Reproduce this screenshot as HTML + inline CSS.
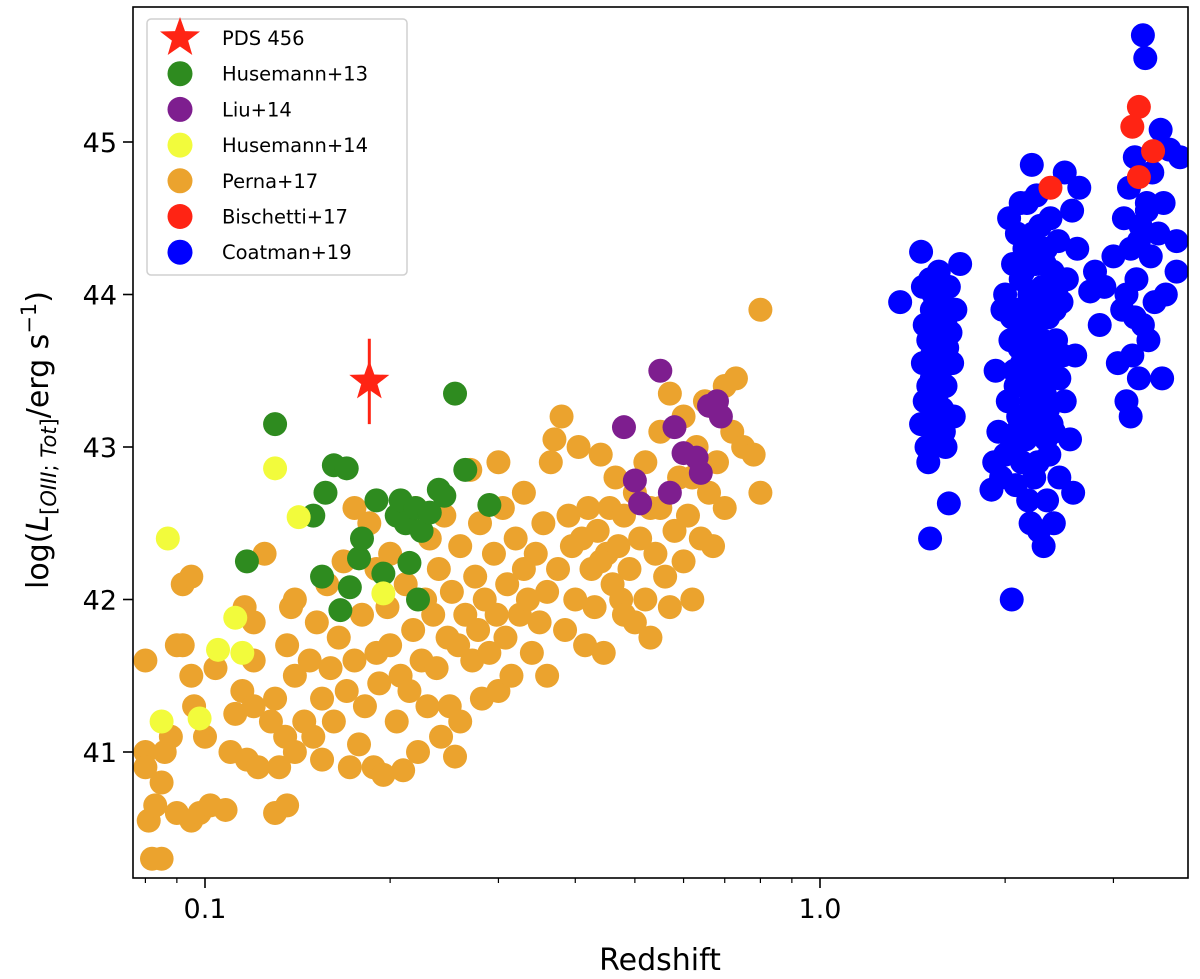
<!DOCTYPE html>
<html><head><meta charset="utf-8"><style>
body{margin:0;background:#fff;}
svg{display:block;font-family:"DejaVu Sans","Liberation Sans",sans-serif;}
</style></head><body>
<svg id="chart" width="1200" height="979" viewBox="0 0 1200 979" xmlns="http://www.w3.org/2000/svg">
<g id="marks"></g>
<g id="axes"></g>
<g id="legend"></g>
</svg>
<script>
const perna=[[0.08,41.6],[0.08,41.0],[0.08,40.9],[0.081,40.55],[0.082,40.3],[0.085,40.3],[0.083,40.65],[0.085,40.8],[0.086,41.0],[0.088,41.1],[0.09,40.6],[0.092,41.7],[0.095,40.55],[0.095,41.5],[0.09,41.7],[0.098,40.6],[0.1,41.1],[0.102,40.65],[0.104,41.55],[0.108,40.62],[0.092,42.1],[0.095,42.15],[0.096,41.3],[0.11,41.0],[0.112,41.25],[0.115,41.4],[0.116,41.95],[0.117,40.95],[0.12,41.3],[0.12,41.85],[0.122,40.9],[0.125,42.3],[0.128,41.2],[0.13,40.6],[0.132,40.9],[0.135,41.1],[0.136,41.7],[0.136,40.65],[0.138,41.95],[0.14,41.5],[0.14,41.0],[0.145,41.2],[0.148,41.6],[0.15,41.1],[0.152,41.85],[0.155,41.35],[0.155,40.95],[0.158,42.1],[0.16,41.55],[0.162,41.2],[0.165,41.75],[0.168,42.25],[0.17,41.4],[0.172,40.9],[0.175,41.6],[0.175,42.6],[0.178,41.05],[0.18,41.9],[0.182,41.3],[0.185,42.5],[0.188,40.9],[0.19,41.65],[0.192,41.45],[0.195,40.85],[0.198,41.95],[0.2,41.7],[0.2,42.3],[0.205,41.2],[0.208,41.5],[0.21,40.88],[0.212,42.1],[0.215,41.4],[0.218,41.8],[0.22,42.6],[0.222,41.0],[0.225,41.6],[0.228,42.0],[0.23,41.3],[0.232,42.4],[0.235,41.9],[0.238,41.55],[0.24,42.2],[0.242,41.1],[0.245,42.55],[0.248,41.75],[0.25,41.3],[0.252,42.05],[0.255,40.97],[0.258,41.7],[0.26,42.35],[0.265,41.9],[0.27,42.85],[0.272,41.6],[0.275,42.15],[0.278,41.8],[0.28,42.5],[0.282,41.35],[0.285,42.0],[0.29,41.65],[0.295,42.3],[0.298,41.9],[0.3,41.4],[0.305,42.6],[0.308,41.75],[0.31,42.1],[0.315,41.5],[0.32,42.4],[0.325,41.9],[0.33,42.7],[0.335,42.0],[0.34,41.65],[0.345,42.3],[0.35,41.85],[0.355,42.5],[0.36,42.05],[0.365,42.9],[0.37,43.05],[0.375,42.2],[0.38,43.2],[0.385,41.8],[0.39,42.55],[0.395,42.35],[0.4,42.0],[0.405,43.0],[0.41,42.4],[0.415,41.7],[0.42,42.6],[0.425,42.2],[0.43,41.95],[0.435,42.45],[0.44,42.95],[0.445,41.65],[0.45,42.3],[0.455,42.6],[0.46,42.1],[0.465,42.8],[0.47,42.35],[0.475,42.0],[0.48,42.55],[0.49,42.2],[0.5,41.85],[0.5,42.7],[0.51,42.4],[0.52,42.9],[0.52,42.0],[0.53,41.75],[0.54,42.3],[0.55,42.6],[0.55,43.1],[0.56,42.15],[0.57,43.35],[0.57,41.95],[0.58,42.45],[0.59,42.8],[0.6,42.25],[0.6,43.2],[0.61,42.55],[0.62,42.0],[0.63,43.0],[0.64,42.4],[0.65,43.3],[0.66,42.7],[0.67,42.35],[0.68,42.9],[0.7,43.4],[0.7,42.6],[0.72,43.1],[0.73,43.45],[0.75,43.0],[0.78,42.95],[0.8,42.7],[0.8,43.9],[0.3,42.9],[0.33,42.2],[0.36,41.5],[0.14,42.0],[0.13,41.35],[0.12,41.6],[0.19,42.2],[0.26,41.2],[0.44,42.25],[0.48,41.9],[0.53,42.6],[0.62,42.8]];
const husemann13=[[0.117,42.25],[0.13,43.15],[0.15,42.55],[0.155,42.15],[0.157,42.7],[0.162,42.88],[0.166,41.93],[0.17,42.86],[0.172,42.08],[0.178,42.27],[0.18,42.4],[0.19,42.65],[0.195,42.17],[0.205,42.55],[0.208,42.65],[0.212,42.5],[0.215,42.24],[0.22,42.6],[0.222,42.0],[0.225,42.45],[0.232,42.57],[0.24,42.72],[0.245,42.68],[0.255,43.35],[0.265,42.85],[0.29,42.62]];
const liu14=[[0.48,43.13],[0.5,42.78],[0.51,42.63],[0.55,43.5],[0.57,42.7],[0.58,43.13],[0.6,42.96],[0.63,42.93],[0.64,42.83],[0.66,43.27],[0.68,43.3],[0.69,43.2]];
const husemann14=[[0.087,42.4],[0.085,41.2],[0.098,41.22],[0.105,41.67],[0.112,41.88],[0.115,41.65],[0.13,42.86],[0.142,42.54],[0.195,42.04]];
const bischetti17=[[2.37,44.7],[3.22,45.1],[3.3,45.23],[3.3,44.77],[3.48,44.94]];
const coatman19=[[1.35,43.95],[1.46,44.28],[1.47,44.05],[1.48,43.8],[1.47,43.55],[1.46,43.15],[1.48,43.3],[1.49,43.0],[1.5,42.9],[1.51,42.4],[1.5,43.7],[1.51,44.1],[1.52,43.9],[1.52,43.45],[1.53,43.2],[1.53,44.0],[1.54,43.6],[1.55,43.85],[1.55,43.35],[1.56,43.05],[1.56,44.15],[1.57,43.7],[1.57,43.5],[1.58,43.95],[1.58,43.25],[1.59,43.1],[1.6,43.8],[1.6,43.4],[1.61,43.65],[1.62,44.05],[1.62,42.63],[1.63,43.75],[1.64,43.55],[1.66,43.9],[1.69,44.2],[1.65,43.2],[1.5,43.4],[1.54,43.05],[1.59,43.6],[1.52,43.6],[1.56,43.25],[1.58,43.75],[1.53,43.8],[1.6,43.0],
[1.9,42.72],[1.92,42.9],[1.93,43.5],[1.95,43.1],[1.97,42.8],[1.98,43.9],[2.0,42.95],[2.0,44.0],[2.02,43.3],[2.03,44.5],[2.04,43.7],[2.05,42.0],[2.05,43.0],[2.06,44.2],[2.07,43.5],[2.08,42.75],[2.09,44.4],[2.1,43.9],[2.1,43.2],[2.11,43.65],[2.12,44.1],[2.13,42.9],[2.14,43.4],[2.15,44.3],[2.15,43.8],[2.16,43.05],[2.17,44.6],[2.18,43.55],[2.19,44.0],[2.2,42.5],[2.2,43.3],[2.21,44.85],[2.22,43.75],[2.23,42.8],[2.24,44.2],[2.25,43.45],[2.26,43.9],[2.27,42.45],[2.28,44.45],[2.28,43.15],[2.29,43.6],[2.3,44.05],[2.31,42.35],[2.32,43.35],[2.33,44.3],[2.34,42.65],[2.35,43.85],[2.36,42.95],[2.37,44.5],[2.38,43.5],[2.39,44.15],[2.4,43.1],[2.42,43.7],[2.44,44.35],[2.45,42.8],[2.47,43.95],[2.5,43.3],[2.52,44.1],[2.55,43.05],[2.58,42.7],[2.6,43.6],[2.62,44.3],[2.64,44.7],[2.57,44.55],[2.5,44.8],[2.12,44.6],[2.4,42.5],[2.25,44.65],[2.35,43.25],[2.18,42.65],[2.08,43.4],[2.45,43.45],[2.2,44.0],[2.3,43.7],[2.15,43.6],[2.25,43.1],
[2.13,43.55],[2.17,43.2],[2.19,43.85],[2.23,43.6],[2.27,43.35],[2.29,43.95],[2.31,43.45],[2.33,43.05],[2.36,43.65],[2.22,44.4],[2.32,44.2],[2.41,43.9],[2.14,44.15],[2.26,42.9],[2.38,43.15],[2.05,43.85],[2.09,43.1],[2.43,44.05],[2.48,43.6],[2.21,43.4],
[2.75,44.02],[2.8,44.15],[2.85,43.8],[2.9,44.05],[3.0,44.25],[3.05,43.55],[3.1,43.9],[3.12,44.5],[3.15,43.3],[3.18,44.7],[3.2,43.2],[3.2,44.3],[3.22,43.6],[3.25,44.9],[3.27,44.1],[3.3,43.45],[3.32,44.45],[3.35,43.8],[3.35,45.7],[3.38,45.55],[3.4,44.6],[3.42,43.7],[3.45,44.25],[3.47,44.8],[3.5,43.95],[3.55,44.4],[3.58,45.08],[3.6,43.45],[3.62,44.6],[3.65,44.0],[3.7,44.95],[3.8,44.35],[3.85,44.9],[3.8,44.15],[3.25,43.85],[3.3,44.35],[3.15,44.0],[3.4,44.55]];
const pds456=[0.185,43.43,0.28];
const xMajorTicks=[0.1,1.0];
const xMajorLabels=["0.1","1.0"];
const xMinorTicks=[0.08,0.09,0.2,0.3,0.4,0.5,0.6,0.7,0.8,0.9,2,3];
const yTicks=[41,42,43,44,45];
const legendLabels=["PDS 456","Husemann+13","Liu+14","Husemann+14","Perna+17","Bischetti+17","Coatman+19"];

const NS="http://www.w3.org/2000/svg";
const L=133,R=1188,T=7,B=878;
function sx(z){return 820+615*Math.log10(z);}
function sy(v){return 752-(v-41)*152.5;}
function mk(tag,attrs,parent){const e=document.createElementNS(NS,tag);for(const k in attrs)e.setAttribute(k,attrs[k]);parent.appendChild(e);return e;}
const marks=document.getElementById('marks');
const axes=document.getElementById('axes');
const leg=document.getElementById('legend');
mk('clipPath',{id:'clip'},marks);
mk('rect',{x:L,y:T,width:R-L,height:B-T},marks.firstChild);
const series=[[perna,'#eba32e','perna-17'],[husemann13,'#2e8b1f','husemann-13'],[liu14,'#7e1e8f','liu-14'],[husemann14,'#f2fb3c','husemann-14'],[coatman19,'#0000ff','coatman-19'],[bischetti17,'#ff2414','bischetti-17']];
series.forEach(s=>{
  const g=mk('g',{'clip-path':'url(#clip)'},marks);
  
  
  s[0].forEach(p=>{
    const c=mk('circle',{cx:sx(p[0]),cy:sy(p[1]),r:12,fill:s[1]},g);
    
    
  });
});
function starPts(cx,cy,ro,ri){let a=[];for(let i=0;i<10;i++){const r=i%2?ri:ro;const t=-Math.PI/2+i*Math.PI/5;a.push((cx+r*Math.cos(t)).toFixed(1)+','+(cy+r*Math.sin(t)).toFixed(1));}return a.join(' ');}
const eb=mk('line',{x1:sx(pds456[0]),x2:sx(pds456[0]),y1:sy(pds456[1]+pds456[2]),y2:sy(pds456[1]-pds456[2]),stroke:'#ff2414','stroke-width':3},marks);


const st=mk('polygon',{points:starPts(sx(pds456[0]),sy(pds456[1]),21,8.5),fill:'#ff2414'},marks);



const frame=mk('rect',{x:L,y:T,width:R-L,height:B-T,fill:'none',stroke:'#000','stroke-width':1.6},axes);


xMajorTicks.forEach((z,i)=>{
  mk('line',{x1:sx(z),x2:sx(z),y1:B,y2:B+10,stroke:'#000','stroke-width':1.6},axes);
  const t=mk('text',{x:sx(z),y:B+40,'font-size':27,'text-anchor':'middle'},axes);
  t.textContent=xMajorLabels[i];
  
  
});
xMinorTicks.forEach(z=>{mk('line',{x1:sx(z),x2:sx(z),y1:B,y2:B+5,stroke:'#000','stroke-width':1.2},axes);});
yTicks.forEach(v=>{
  mk('line',{x1:L-10,x2:L,y1:sy(v),y2:sy(v),stroke:'#000','stroke-width':1.6},axes);
  const t=mk('text',{x:L-16,y:sy(v)+10,'font-size':27,'text-anchor':'end'},axes);
  t.textContent=String(v);
  
  
});
const xt=mk('text',{x:660,y:970,'font-size':30,'text-anchor':'middle'},axes);
xt.textContent='Redshift';


const yt=mk('text',{x:0,y:0,'font-size':30,'text-anchor':'middle',transform:'translate(48,440) rotate(-90)'},axes);


yt.innerHTML='log(<tspan font-style="italic">L</tspan><tspan font-size="21" dy="8">[<tspan font-style="italic">OIII</tspan>; <tspan font-style="italic">Tot</tspan>]</tspan><tspan dy="-8">/erg s</tspan><tspan font-size="21" dy="-12">−1</tspan><tspan dy="12">)</tspan>';

const box=mk('rect',{x:147,y:19,width:260,height:256,rx:4,fill:'#fff',stroke:'#d0d0d0','stroke-width':1.5,'fill-opacity':0.9},leg);


const legColors=['#ff2414','#2e8b1f','#7e1e8f','#f2fb3c','#eba32e','#ff2414','#0000ff'];
legendLabels.forEach((lab,i)=>{
  const y=38+i*35.7;
  const g=mk('g',{},leg);
  
  
  if(i===0) mk('polygon',{points:starPts(180,y,21,8.5),fill:legColors[i]},g);
  else mk('circle',{cx:180,cy:y,r:12.5,fill:legColors[i]},g);
  const t=mk('text',{x:222,y:y+7,'font-size':19.5},g);
  t.textContent=lab;
});
</script>
</body></html>
